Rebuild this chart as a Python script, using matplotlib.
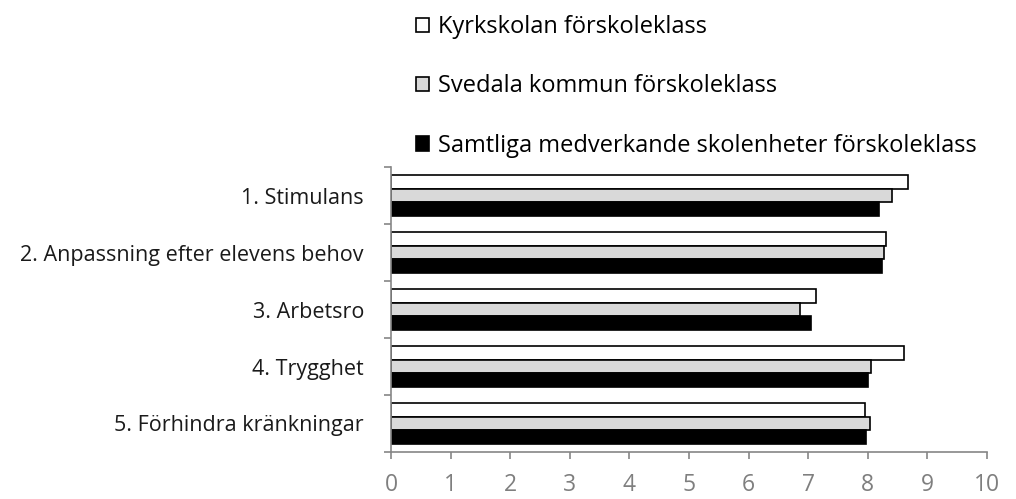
import numpy as np
import matplotlib
matplotlib.use("Agg")
import matplotlib.pyplot as plt

plt.rcParams['font.family'] = ['Open Sans', 'DejaVu Sans']

categories = ["1. Stimulans", "2. Anpassning efter elevens behov", "3. Arbetsro",
              "4. Trygghet", "5. Förhindra kränkningar"]
series_names = ["Kyrkskolan förskoleklass", "Svedala kommun förskoleklass",
                "Samtliga medverkande skolenheter förskoleklass"]
kyrkskolan = [8.67, 8.31, 7.13, 8.61, 7.96]
svedala = [8.41, 8.28, 6.87, 8.06, 8.03]
samtliga = [8.19, 8.23, 7.05, 8.01, 7.97]
xticks = list(range(0, 11))

fills = ["white", "#d9d9d9", "black"]
axis_col = "#868686"

W, H = 1016, 499
fig = plt.figure(figsize=(W / 100, H / 100), dpi=100)
# plot area in pixels: x 391..987, y 167..452
ax = fig.add_axes([391 / W, 1 - 452 / H, (987 - 391) / W, (452 - 167) / H])

n = len(categories)
y = np.arange(n)
h = 0.238
handles = []
for k, (vals, col, name) in enumerate(zip([kyrkskolan, svedala, samtliga], fills, series_names)):
    b = ax.barh(y + (k - 1) * h, vals, height=h, color=col, edgecolor="black",
                linewidth=1.2, label=name)
    handles.append(b)

ax.set_xlim(0, 10)
ax.set_ylim(n - 0.5, -0.5)
ax.set_xticks(xticks)
ax.set_xticklabels([str(t) for t in xticks], fontsize=16.5, color="#7f7f7f")
ax.set_yticks(y)
ax.set_yticklabels(categories, fontsize=15.5, color="#1a1a1a")
ax.tick_params(axis="y", length=0, pad=19.5)
ax.set_yticks(np.arange(n + 1) - 0.5, minor=True)
ax.tick_params(axis="y", which="minor", length=5, color=axis_col, width=1.2)
ax.tick_params(axis="x", length=5, color=axis_col, width=1.2, pad=10)

for s in ["top", "right"]:
    ax.spines[s].set_visible(False)
for s in ["left", "bottom"]:
    ax.spines[s].set_color(axis_col)
    ax.spines[s].set_linewidth(1.2)

fig.legend(handles=handles, loc="upper left", bbox_to_anchor=(416 / W, 1 - 15 / H),
           frameon=False, fontsize=17, labelspacing=1.5, handlelength=0.55,
           handleheight=0.55, handletextpad=0.38, borderaxespad=0, borderpad=0)

fig.savefig("out.png", dpi=100)
